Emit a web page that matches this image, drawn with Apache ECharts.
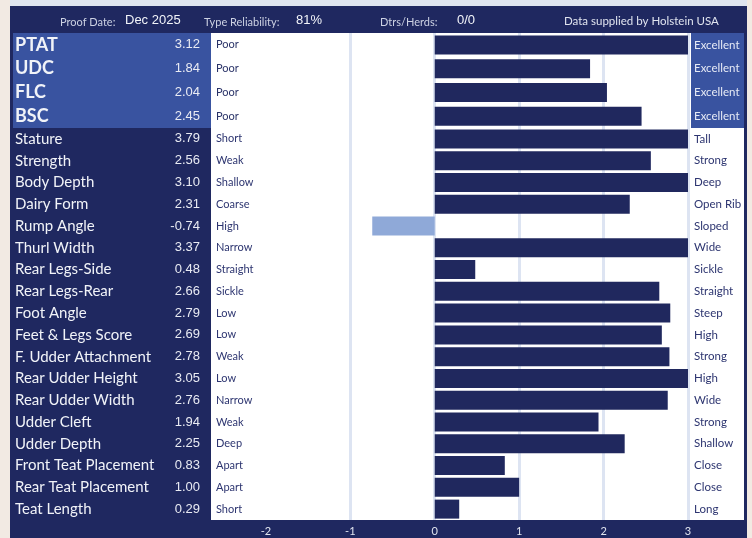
<!DOCTYPE html>
<html>
<head>
<meta charset="utf-8">
<script src="https://cdn.jsdelivr.net/npm/echarts@6/dist/echarts.min.js"></script>
<style>
  html, body { margin: 0; padding: 0; background: #f2eae3; }
  #wrap { position: relative; width: 752px; height: 538px; overflow: hidden; }
  .bx { position: absolute; }
  #chart { position: absolute; left: 0; top: 0; width: 752px; height: 538px; }
</style>
</head>
<body>
<div id="wrap">
  <div class="bx" style="left:10px;top:0;width:737px;height:6px;background:#dfe5f0"></div>
  <div class="bx" style="left:10px;top:6px;width:737px;height:532px;background:#1f2860"></div>
  <div class="bx" style="left:13px;top:33px;width:198px;height:95px;background:#3953a0"></div>
  <div class="bx" style="left:211px;top:33px;width:480px;height:487px;background:#ffffff"></div>
  <div class="bx" style="left:691px;top:128px;width:53px;height:392px;background:#ffffff"></div>
  <div class="bx" style="left:691px;top:33px;width:53px;height:95px;background:#3953a0"></div>
  <div id="chart"></div>
</div>
<script>
// Summary indexes
const summaryTraits = ['PTAT', 'UDC', 'FLC', 'BSC'];
const summaryValues = [3.12, 1.84, 2.04, 2.45];
const summaryLow = ['Poor', 'Poor', 'Poor', 'Poor'];
const summaryHigh = ['Excellent', 'Excellent', 'Excellent', 'Excellent'];

// Linear type traits
const linearTraits = ['Stature', 'Strength', 'Body Depth', 'Dairy Form', 'Rump Angle', 'Thurl Width',
  'Rear Legs-Side', 'Rear Legs-Rear', 'Foot Angle', 'Feet & Legs Score', 'F. Udder Attachment',
  'Rear Udder Height', 'Rear Udder Width', 'Udder Cleft', 'Udder Depth', 'Front Teat Placement',
  'Rear Teat Placement', 'Teat Length'];
const linearValues = [3.79, 2.56, 3.10, 2.31, -0.74, 3.37, 0.48, 2.66, 2.79, 2.69, 2.78, 3.05, 2.76,
  1.94, 2.25, 0.83, 1.00, 0.29];
const linearLow = ['Short', 'Weak', 'Shallow', 'Coarse', 'High', 'Narrow', 'Straight', 'Sickle', 'Low',
  'Low', 'Weak', 'Low', 'Narrow', 'Weak', 'Deep', 'Apart', 'Apart', 'Short'];
const linearHigh = ['Tall', 'Strong', 'Deep', 'Open Rib', 'Sloped', 'Wide', 'Sickle', 'Straight', 'Steep',
  'High', 'Strong', 'High', 'Wide', 'Strong', 'Shallow', 'Close', 'Close', 'Long'];

// Scale
const axisTicks = [-2, -1, 0, 1, 2, 3];
const gridLines = [-1, 0, 1, 2, 3];
const scaleMin = -2.65;
const scaleMax = 3;

// Header
const headerLabels = ['Proof Date:', 'Type Reliability:', 'Dtrs/Herds:'];
const headerValues = ['Dec 2025', '81%', '0/0'];
const sourceNote = 'Data supplied by Holstein USA';

const NAVY = '#20285e';
const LIGHT_BAR = '#8fa9d8';
const TEXT_DARK = '#2d3570';

function yAxesFor(g, names, vals, lows, highs, big) {
  const base = {
    type: 'category', gridIndex: g, inverse: true, data: names,
    axisLine: { show: false }, axisTick: { show: false }, splitLine: { show: false }
  };
  const lbl = (arr, extra) => Object.assign({ interval: 0, formatter: (v, i) => arr[i] }, extra);
  const valueText = vals.map(v => v.toFixed(2));
  return [
    Object.assign({}, base, {
      position: 'left',
      axisLabel: lbl(names, {
        align: 'left', margin: 196, color: '#f1f3f8', fontFamily: 'Lato',
        fontSize: big ? 18 : 15, fontWeight: big ? 'bold' : 'normal',
        padding: [big ? 0 : 4, 0, 0, 0]
      })
    }),
    Object.assign({}, base, {
      position: 'left',
      axisLabel: lbl(valueText, {
        align: 'right', margin: 11, color: '#e9ebf3', fontFamily: 'Liberation Sans',
        fontSize: 13, padding: [0, 0, big ? 0 : 4, 0]
      })
    }),
    Object.assign({}, base, {
      position: 'left',
      axisLabel: lbl(lows, {
        inside: true, align: 'left', margin: 5, color: big ? '#2a3368' : TEXT_DARK,
        fontFamily: 'Lato', fontSize: 11, padding: [0, 0, 4, 0]
      })
    }),
    Object.assign({}, base, {
      position: 'right',
      axisLabel: lbl(highs, {
        align: 'left', margin: 6, color: big ? '#e6eaf5' : TEXT_DARK,
        fontFamily: 'Lato', fontSize: 11.5
      })
    })
  ];
}

const gridMark = {
  silent: true, symbol: 'none', z: 1, animation: false,
  label: { show: false }, emphasis: { disabled: true },
  lineStyle: { color: '#dde4f2', width: 3, type: 'solid' },
  data: gridLines.map(v => ({ xAxis: v }))
};

const barStyle = { color: p => (p.value < 0 ? LIGHT_BAR : NAVY) };

const headerLayout = [
  { x: 60, vx: 125 }, { x: 204, vx: 296 }, { x: 380, vx: 457 }
];
const headerGraphics = [];
headerLabels.forEach((t, i) => {
  headerGraphics.push({
    type: 'text', x: headerLayout[i].x, y: 22,
    style: { text: t, fill: '#cdd2e3', font: '11px Lato', verticalAlign: 'middle' }
  });
  headerGraphics.push({
    type: 'text', x: headerLayout[i].vx, y: 20,
    style: { text: headerValues[i], fill: '#f2f4f9', font: '13px "Liberation Sans"', verticalAlign: 'middle' }
  });
});
headerGraphics.push({
  type: 'text', x: 564, y: 21,
  style: { text: sourceNote, fill: '#e0e4ef', font: '11.5px Lato', verticalAlign: 'middle' }
});

const chart = echarts.init(document.getElementById('chart'), null, { renderer: 'canvas' });
chart.setOption({
  animation: false,
  backgroundColor: 'transparent',
  graphic: headerGraphics,
  grid: [
    { left: 211, top: 33, width: 477, height: 95 },
    { left: 211, top: 128, width: 477, height: 392 }
  ],
  xAxis: [
    {
      type: 'value', gridIndex: 0, min: scaleMin, max: scaleMax,
      axisLine: { show: false }, axisTick: { show: false },
      axisLabel: { show: false }, splitLine: { show: false }
    },
    {
      type: 'value', gridIndex: 1, min: scaleMin, max: scaleMax,
      axisLine: { show: false }, axisTick: { show: false }, splitLine: { show: false },
      axisLabel: {
        customValues: axisTicks, margin: 6, color: '#e0e4ef', fontFamily: 'Lato', fontSize: 11
      }
    }
  ],
  yAxis: [].concat(
    yAxesFor(0, summaryTraits, summaryValues, summaryLow, summaryHigh, true),
    yAxesFor(1, linearTraits, linearValues, linearLow, linearHigh, false)
  ),
  series: [
    {
      type: 'bar', xAxisIndex: 0, yAxisIndex: 0, data: summaryValues, barWidth: 19,
      itemStyle: barStyle, markLine: gridMark, silent: true
    },
    {
      type: 'bar', xAxisIndex: 1, yAxisIndex: 4, data: linearValues, barWidth: 19,
      itemStyle: barStyle, markLine: gridMark, silent: true
    }
  ]
});
</script>
</body>
</html>
